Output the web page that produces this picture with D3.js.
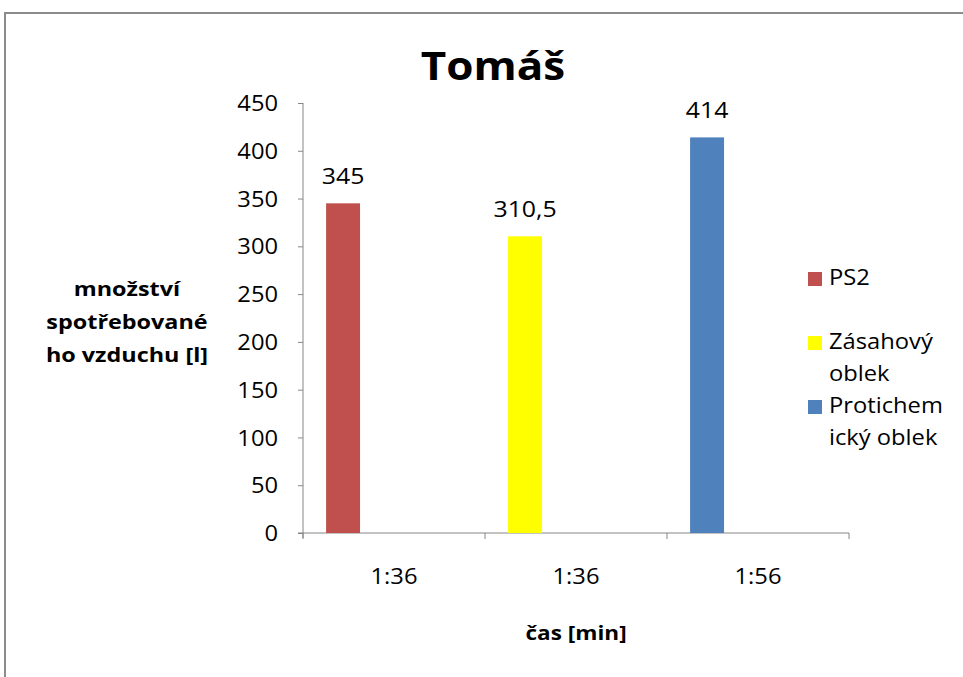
<!DOCTYPE html>
<html>
<head>
<meta charset="utf-8">
<script src="https://cdn.jsdelivr.net/npm/d3@7/dist/d3.min.js"></script>
<style>
  html, body { margin: 0; padding: 0; background: #fff; }
  svg { display: block; }
  text { font-family: "Open Sans", "Liberation Sans", sans-serif; fill: #000; }
</style>
</head>
<body>
<svg id="chart" width="963" height="677"></svg>
<script>
// Air consumption per suit type
const categories = ["1:36", "1:36", "1:56"];
const seriesNames = ["PS2", "Zásahový oblek", "Protichemický oblek"];
const seriesValues = [345, 310.5, 414];
const seriesColors = ["#C0504D", "#FFFF00", "#4F81BD"];
const valueLabels = ["345", "310,5", "414"];
const yTicks = [0, 50, 100, 150, 200, 250, 300, 350, 400, 450];
const legendLines = [["PS2"], ["Zásahový", "oblek"], ["Protichem", "ický oblek"]];

const svg = d3.select("#chart");
const axisColor = "#868686";
const wide = 1.13; // horizontal stretch applied to text

// group anchored at ax, stretched horizontally around that point
function stretched(parent, ax, k = wide) {
  return parent.append("g").attr("transform", `translate(${ax},0) scale(${k},1)`);
}

// chart frame
svg.append("rect")
  .attr("x", 5).attr("y", 13)
  .attr("width", 1000).attr("height", 700)
  .attr("fill", "#fff")
  .attr("stroke", "#8c8c8c").attr("stroke-width", 2);

const plot = { left: 303, right: 849, top: 103, bottom: 533 };

const x = d3.scaleBand()
  .domain(d3.range(categories.length))
  .range([plot.left, plot.right])
  .paddingInner(0).paddingOuter(0);

// slot layout inside each category; each series occupies the first slot
const slot = d3.scaleBand()
  .domain(d3.range(4))
  .range([0, x.bandwidth()])
  .paddingInner(0).paddingOuter(0.68);

const y = d3.scaleLinear().domain([0, 450]).range([plot.bottom, plot.top]);

// title
stretched(svg, 493, 1.1).append("text")
  .attr("x", 0).attr("y", 80)
  .attr("text-anchor", "middle")
  .style("font-size", "40px").style("font-weight", "700")
  .text("Tomáš");

// y axis
const yPad = 25;
const yAxis = svg.append("g")
  .attr("transform", `translate(${plot.left},0)`)
  .call(d3.axisLeft(y).tickValues(yTicks).tickSize(5).tickPadding(yPad).tickFormat(d3.format("d")));
yAxis.select(".domain").attr("stroke", axisColor).attr("d", `M0,${plot.top}V${plot.bottom + 5}`);
yAxis.selectAll(".tick line").attr("stroke", axisColor);
yAxis.selectAll(".tick text")
  .style("font-size", "21px").attr("fill", "#000").attr("dy", "0.36em")
  .attr("x", -yPad / wide)
  .attr("transform", `scale(${wide},1)`);

// x axis
const xAxis = svg.append("g")
  .attr("transform", `translate(0,${plot.bottom})`)
  .call(d3.axisBottom(x).tickSize(0).tickPadding(36).tickFormat(i => categories[i]));
xAxis.select(".domain").attr("stroke", axisColor).attr("d", `M${plot.left - 5},0H${plot.right}`);
xAxis.selectAll(".tick text")
  .style("font-size", "21px").attr("fill", "#000")
  .attr("transform", `scale(${wide},1)`);
// category separators
xAxis.selectAll(".sep")
  .data(d3.range(categories.length + 1))
  .join("line")
  .attr("class", "sep")
  .attr("x1", i => i < categories.length ? x(i) : plot.right)
  .attr("x2", i => i < categories.length ? x(i) : plot.right)
  .attr("y1", 0).attr("y2", 6)
  .attr("stroke", axisColor);

// bars
svg.append("g").selectAll("rect")
  .data(seriesValues)
  .join("rect")
  .attr("x", (d, i) => x(i) + slot(0))
  .attr("width", slot.bandwidth())
  .attr("y", d => y(d))
  .attr("height", d => y(0) - y(d))
  .attr("fill", (d, i) => seriesColors[i]);

// value labels
seriesValues.forEach((d, i) => {
  stretched(svg, x(i) + slot(0) + slot.bandwidth() / 2).append("text")
    .attr("x", 0)
    .attr("y", y(d) - 19)
    .attr("text-anchor", "middle")
    .style("font-size", "22px")
    .text(valueLabels[i]);
});

// axis titles
stretched(svg, 576).append("text")
  .attr("x", 0).attr("y", 640)
  .attr("text-anchor", "middle")
  .style("font-size", "20px").style("font-weight", "700")
  .text("čas [min]");

const yTitle = stretched(svg, 127, 1.2).append("text")
  .attr("text-anchor", "middle")
  .style("font-size", "19.5px").style("font-weight", "700");
["množství", "spotřebované", "ho vzduchu [l]"].forEach((t, i) => {
  yTitle.append("tspan").attr("x", 0).attr("y", 296 + i * 33).text(t);
});

// legend
const legendTop = [277, 341, 405];
const legend = svg.append("g");
seriesNames.forEach((name, i) => {
  legend.append("rect")
    .attr("x", 808).attr("y", legendTop[i] - 5)
    .attr("width", 14).attr("height", 14)
    .attr("fill", seriesColors[i]);
  const t = stretched(legend, 829).append("text").style("font-size", "21px");
  legendLines[i].forEach((line, j) => {
    t.append("tspan").attr("x", 0).attr("y", legendTop[i] + 8 + j * 32).text(line);
  });
});
</script>
</body>
</html>
